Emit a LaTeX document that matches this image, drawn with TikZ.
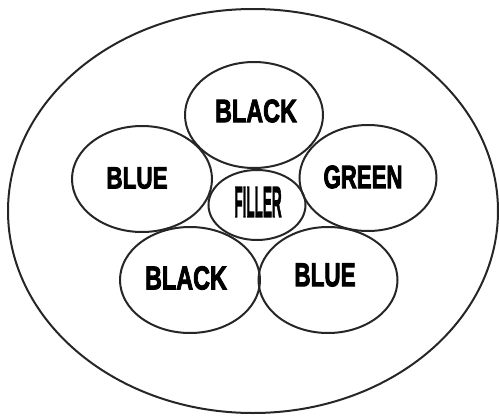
\documentclass[tikz,border=0pt]{standalone}
\usepackage{fontspec}
\newfontfamily\heavyfont[FakeBold=3]{Liberation Sans Bold}
\usetikzlibrary{shapes.geometric}
\tikzset{
  ring/.style={draw=black!85, line width=2pt, ellipse, inner sep=0pt},
  word/.style={inner sep=0pt, font=\heavyfont\fontsize{30}{30}\selectfont, text=black}
}
\begin{document}
\begin{tikzpicture}[x=1pt,y=-1pt]
\useasboundingbox (0,0) rectangle (499,418);
\node[ring, minimum width=490pt, minimum height=404pt] (outer) at (253,211) {};
\node[ring, minimum width=138pt, minimum height=106pt] (topblack) at (254,115) {};
\node[ring, minimum width=140pt, minimum height=106pt] (leftblue) at (142,179) {};
\node[ring, minimum width=137pt, minimum height=106pt] (green) at (368,178) {};
\node[ring, minimum width=97pt, minimum height=70pt] (filler) at (257,205) {};
\node[ring, minimum width=140pt, minimum height=106pt] (botblack) at (190,280) {};
\node[ring, minimum width=139pt, minimum height=106pt] (botblue) at (328,280) {};
\node[word] (t1) at (256,111) {\scalebox{0.78}[1.08]{BLACK}};
\node[word] (t2) at (137,178) {\scalebox{0.75}[1.02]{BLUE}};
\node[word] (t3) at (363,177) {\scalebox{0.74}[1.08]{GREEN}};
\node[word] (t4) at (258,202) {\scalebox{0.45}[1.45]{FILLER}};
\node[word] (t5) at (186,278) {\scalebox{0.78}[1.1]{BLACK}};
\node[word] (t6) at (325,275) {\scalebox{0.75}[1.1]{BLUE}};
\end{tikzpicture}
\end{document}
